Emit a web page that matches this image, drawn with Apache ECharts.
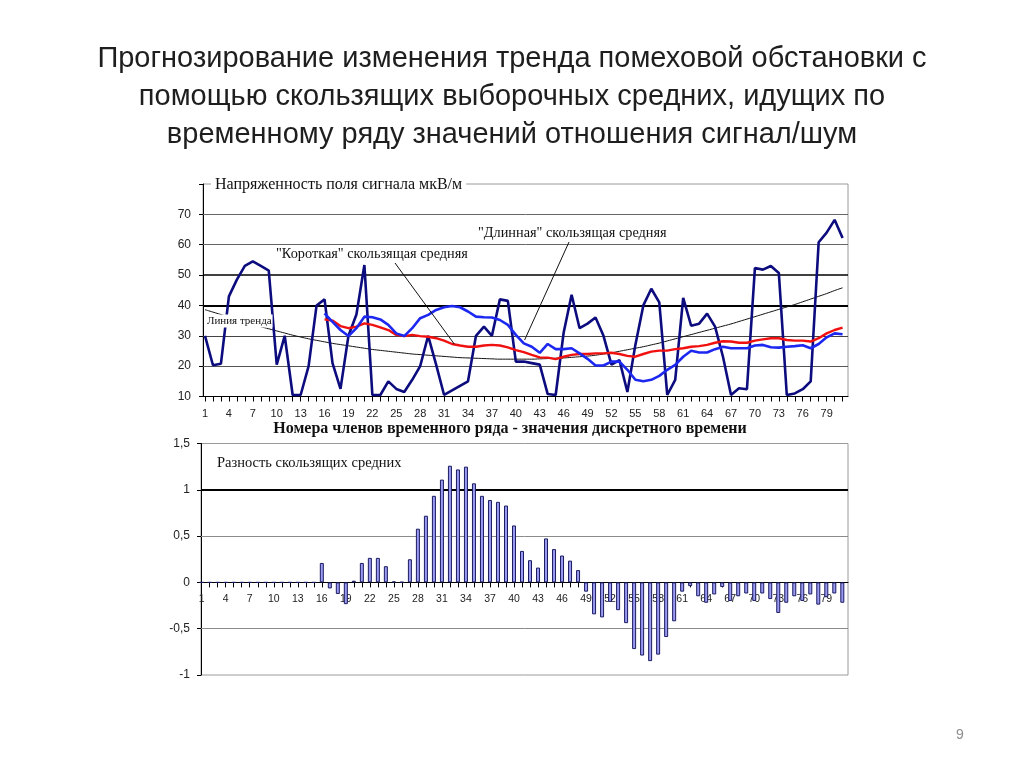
<!DOCTYPE html>
<html><head><meta charset="utf-8">
<script src="https://cdn.jsdelivr.net/npm/echarts@6/dist/echarts.min.js"></script>
<style>html,body{margin:0;padding:0;background:#fff}#c{width:1024px;height:767px}</style>
</head><body><div id="c"></div>
<script>
// ---- data ----
const categories = [1,2,3,4,5,6,7,8,9,10,11,12,13,14,15,16,17,18,19,20,21,22,23,24,25,26,27,28,29,30,31,32,33,34,35,36,37,38,39,40,41,42,43,44,45,46,47,48,49,50,51,52,53,54,55,56,57,58,59,60,61,62,63,64,65,66,67,68,69,70,71,72,73,74,75,76,77,78,79,80,81];
const xTickLabels = [1,4,7,10,13,16,19,22,25,28,31,34,37,40,43,46,49,52,55,58,61,64,67,70,73,76,79];
const topYTicks = [10,20,30,40,50,60,70];
const bottomYTicks = [-1,-0.5,0,0.5,1,1.5];

const rawSignal = [30,20.3,20.8,43,48.5,53,54.5,53,51.5,20.5,
  30,10.5,10.5,20,40,42,21,12.5,30,37,
  53.3,10.5,10.5,15,12.5,11.5,15.5,20,30,20.5,
  10.5,12,13.5,15,30,33,30,42,41.5,21.5,
  21.5,21,20.5,10.8,10.5,31,43.5,32.5,34,36,
  30,20.5,22,11.5,27,40,45.5,41,10.5,15.5,
  42.5,33.3,34,37.3,33,23,10.5,12.7,12.4,52.3,
  51.8,53,50.7,10.5,11,12.4,15,60.8,64,68.2,62.2];

// blue curve (starts at member 16)
const blueAvg = [null,null,null,null,null,null,null,null,null,null,null,null,null,null,null,
  37.4,34.6,31.9,29.9,32.5,36.3,36.1,35.4,33.6,30.8,
  29.9,32.5,35.8,36.9,38.5,39.4,39.8,39.4,38,36.3,
  36.1,36,35.2,33.6,30.3,27.5,26.4,24.4,27.3,25.6,
  25.6,25.9,24.2,22.4,20.2,20.2,21.5,21.5,18.8,15.5,
  15,15.5,16.8,18.8,20.4,23.1,25.1,24.5,24.5,25.6,
  26.4,25.9,25.9,25.9,26.8,27,26.2,26.1,26.4,26.6,
  26.9,25.9,27.3,29.5,30.8,30.5];

// red curve (starts at member 16)
const redAvg = [null,null,null,null,null,null,null,null,null,null,null,null,null,null,null,
  35.4,35,33.2,32.5,33,34.1,33.6,32.8,31.9,30.3,
  29.9,30.3,29.9,29.7,29.2,28.4,27.3,26.8,26.4,26.4,
  26.8,27,26.8,26.2,25.3,24.6,23.7,22.9,22.8,22.3,
  23.1,23.7,24,24,24.2,24.2,24.4,24,23.4,23.1,
  24,24.8,25.1,25.1,25.6,25.9,26.4,26.6,27,27.7,
  28.2,28.1,27.7,27.7,28.4,28.8,29.2,29.2,28.6,28.4,
  28.4,28.1,29.2,30.8,31.9,32.7];

const trendLine = [38.6,37.8,37.0,36.2,35.4,34.6,33.8,33.0,32.3,31.6,
  30.9,30.2,29.6,29.0,28.5,28.0,27.5,27.1,26.7,26.3,
  25.9,25.5,25.2,24.9,24.6,24.3,24.0,23.8,23.6,23.4,
  23.2,23.0,22.8,22.7,22.6,22.5,22.4,22.3,22.3,22.3,
  22.3,22.3,22.4,22.5,22.6,22.7,22.9,23.1,23.3,23.6,
  24.0,24.4,24.9,25.4,25.9,26.4,27.0,27.6,28.3,29.0,
  29.7,30.4,31.1,31.8,32.5,33.2,33.9,34.7,35.5,36.3,
  37.1,37.9,38.7,39.5,40.3,41.2,42.1,43.0,43.9,44.9,45.8];

const movingDiff = [0,0,0,0,0,0,0,0,0,0,
  0,0,0,0,0,0.21,-0.065,-0.125,-0.235,0.018,
  0.21,0.265,0.265,0.175,0.01,0.004,0.25,0.58,0.72,0.935,
  1.11,1.26,1.22,1.25,1.07,0.935,0.89,0.87,0.83,0.615,
  0.34,0.24,0.16,0.475,0.36,0.29,0.235,0.133,-0.1,-0.345,
  -0.378,-0.21,-0.3,-0.44,-0.72,-0.79,-0.85,-0.78,-0.59,-0.42,
  -0.1,-0.04,-0.15,-0.22,-0.13,-0.05,-0.2,-0.15,-0.12,-0.2,
  -0.12,-0.18,-0.33,-0.22,-0.15,-0.2,-0.13,-0.24,-0.16,-0.12,-0.22];

// annotation anchors in data coordinates
const shortPointerAt = [32.3, 27.2];
const longPointerAt = [41.1, 28.6];

// ---- build ----
const pairs = arr => categories.map((c, i) => [c, arr[i]]);
const serif = '"Liberation Serif", "DejaVu Serif", serif';
const sans = '"Liberation Sans", Arial, sans-serif';

const option = {
  animation: false,
  backgroundColor: '#fff',
  grid: [
    { left: 203, top: 184, width: 645, height: 212.5, show: true, borderColor: '#9a9a9a', borderWidth: 1, backgroundColor: 'transparent' },
    { left: 201, top: 443.5, width: 647, height: 231.5, show: true, borderColor: '#9a9a9a', borderWidth: 1, backgroundColor: 'transparent' }
  ],
  xAxis: [
    { type: 'value', gridIndex: 0, min: 0.749, max: 81.68,
      axisLine: { show: true, onZero: false, lineStyle: { color: '#000', width: 1 } },
      axisTick: { show: true, customValues: categories, length: 5, lineStyle: { color: '#000' } },
      axisLabel: { customValues: xTickLabels, color: '#222', fontSize: 11, fontFamily: sans, margin: 12 },
      splitLine: { show: false } },
    { type: 'value', gridIndex: 1, min: 0.913, max: 81.71, offset: -92.6,
      axisLine: { show: true, onZero: false, lineStyle: { color: '#000', width: 1 } },
      axisTick: { show: true, customValues: categories, length: 5, lineStyle: { color: '#000' } },
      axisLabel: { customValues: xTickLabels, color: '#222', fontSize: 10.5, fontFamily: sans, margin: 11 },
      splitLine: { show: false } }
  ],
  yAxis: [
    { type: 'value', gridIndex: 0, min: 10, max: 80, interval: 10,
      axisLine: { show: true, lineStyle: { color: '#000' } },
      axisTick: { show: true, length: 4, lineStyle: { color: '#000' } },
      axisLabel: { color: '#222', fontSize: 12, fontFamily: sans, margin: 12,
        formatter: v => topYTicks.indexOf(v) >= 0 ? String(v) : '' },
      splitLine: { show: false } },
    { type: 'value', gridIndex: 1, min: -1, max: 1.5, interval: 0.5,
      axisLine: { show: true, lineStyle: { color: '#000' } },
      axisTick: { show: true, length: 4, lineStyle: { color: '#000' } },
      axisLabel: { color: '#222', fontSize: 12, fontFamily: sans, margin: 11,
        formatter: v => bottomYTicks.indexOf(v) >= 0 ? String(v).replace('.', ',') : '' },
      splitLine: { show: false } }
  ],
  series: [
    { name: 'Линия тренда', type: 'line', xAxisIndex: 0, yAxisIndex: 0, z: 2,
      data: pairs(trendLine), showSymbol: false, smooth: true,
      lineStyle: { color: '#111', width: 1 },
      markLine: { silent: true, symbol: 'none', z: 1, label: { show: false },
        data: [
          { yAxis: topYTicks[1], lineStyle: { color: '#555', width: 1, type: 'solid' } },
          { yAxis: topYTicks[2], lineStyle: { color: '#444', width: 1, type: 'solid' } },
          { yAxis: topYTicks[3], lineStyle: { color: '#000', width: 2, type: 'solid' } },
          { yAxis: topYTicks[4], lineStyle: { color: '#000', width: 1.6, type: 'solid' } },
          { yAxis: topYTicks[5], lineStyle: { color: '#666', width: 1, type: 'solid' } },
          { yAxis: topYTicks[6], lineStyle: { color: '#666', width: 1, type: 'solid' } }
        ] } },
    { name: 'Сигнал', type: 'line', xAxisIndex: 0, yAxisIndex: 0, z: 3,
      data: pairs(rawSignal), showSymbol: false,
      lineStyle: { color: '#0c0c7e', width: 2.6 } },
    { name: 'Красная скользящая средняя', type: 'line', xAxisIndex: 0, yAxisIndex: 0, z: 4,
      data: pairs(redAvg), showSymbol: false,
      lineStyle: { color: '#f01010', width: 2.4 } },
    { name: 'Синяя скользящая средняя', type: 'line', xAxisIndex: 0, yAxisIndex: 0, z: 5,
      data: pairs(blueAvg), showSymbol: false,
      lineStyle: { color: '#1c28f0', width: 2.6 } },
    { name: 'Разность скользящих средних', type: 'bar', xAxisIndex: 1, yAxisIndex: 1, z: 3,
      data: pairs(movingDiff), barWidth: 4,
      itemStyle: { color: '#9a9af2', borderColor: '#1a1a60', borderWidth: 1 },
      markLine: { silent: true, symbol: 'none', z: 1, label: { show: false },
        data: [
          { yAxis: bottomYTicks[1], lineStyle: { color: '#8a8a8a', width: 1, type: 'solid' } },
          { yAxis: bottomYTicks[3], lineStyle: { color: '#8a8a8a', width: 1, type: 'solid' } },
          { yAxis: bottomYTicks[4], lineStyle: { color: '#000', width: 2, type: 'solid' } }
        ] } }
  ]
};

const chart = echarts.init(document.getElementById('c'));
chart.setOption(option);

const sp = chart.convertToPixel({ gridIndex: 0 }, shortPointerAt);
const lp = chart.convertToPixel({ gridIndex: 0 }, longPointerAt);
const txt = (text, x, y, font, extra) => Object.assign({
  type: 'text', z: 50,
  style: Object.assign({ text, x, y, font, fill: '#111', textVerticalAlign: 'middle' }, extra || {})
});
chart.setOption({
  graphic: [
    txt('Прогнозирование изменения тренда помеховой обстановки с\nпомощью скользящих выборочных средних, идущих по\nвременному ряду значений отношения сигнал/шум',
      512, 40, '29px ' + sans, { textAlign: 'center', textVerticalAlign: 'top', lineHeight: 38, fill: '#1e1e1e' }),
    txt('Напряженность поля сигнала мкВ/м', 211, 185, '16px ' + serif, { backgroundColor: '#fff', padding: [2, 4, 2, 4] }),
    txt('"Короткая" скользящая средняя', 276, 254, '14.3px ' + serif),
    txt('"Длинная" скользящая средняя', 478, 233, '14.3px ' + serif),
    txt('Линия тренда', 206, 321, '11px ' + serif, { backgroundColor: '#fff', padding: [1, 1, 1, 1] }),
    txt('Номера членов временного ряда - значения дискретного времени', 510, 429, 'bold 16px ' + serif, { textAlign: 'center' }),
    txt('Разность скользящих средних', 217, 463, '14.5px ' + serif),
    txt('9', 960, 735, '14px ' + sans, { fill: '#8c8c8c', textAlign: 'center' }),
    { type: 'line', z: 40, shape: { x1: 395, y1: 263, x2: sp[0], y2: sp[1] }, style: { stroke: '#111', lineWidth: 1 } },
    { type: 'line', z: 40, shape: { x1: 569, y1: 242, x2: lp[0], y2: lp[1] }, style: { stroke: '#111', lineWidth: 1 } }
  ]
});
</script>
</body></html>
